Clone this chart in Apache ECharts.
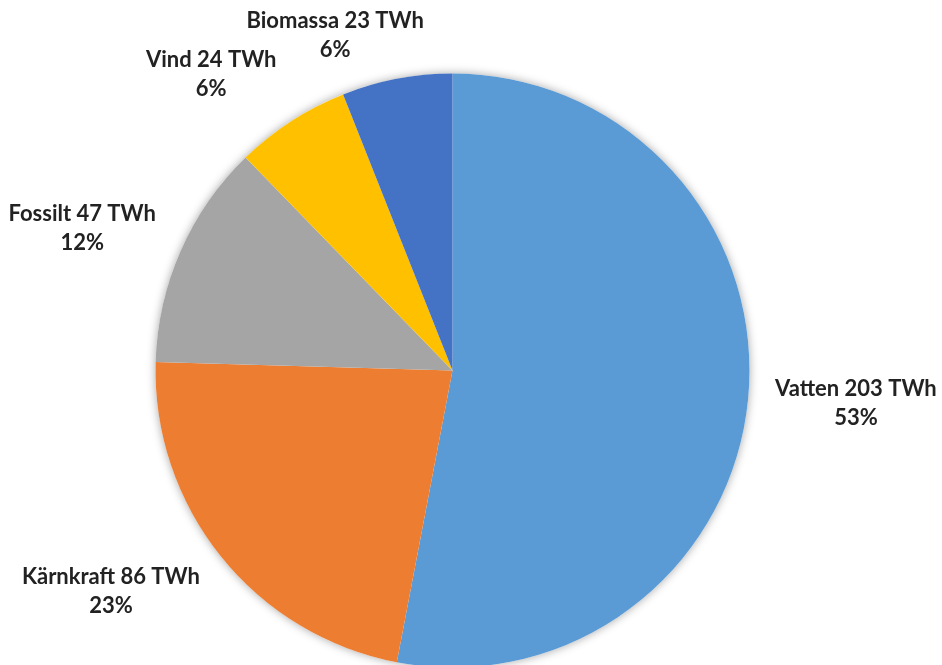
<!DOCTYPE html>
<html><head><meta charset="utf-8">
<script src="https://cdn.jsdelivr.net/npm/echarts@6/dist/echarts.min.js"></script>
<style>html,body{margin:0;padding:0;background:#fff}#c{width:942px;height:665px}</style>
</head><body><div id="c"></div>
<script>
const categories = ['Vatten', 'Kärnkraft', 'Fossilt', 'Vind', 'Biomassa'];
const values = [203, 86, 47, 24, 23];
const colors = ['#5B9BD5', '#ED7D31', '#A5A5A5', '#FFC000', '#4472C4'];

const CX = 452.5, CY = 370.5, R = 297, GAP = 27, TOPMIN = 6;
const total = values.reduce((a, b) => a + b, 0);
const mids = []; let acc = 0;
values.forEach(v => { mids.push((acc + v / 2) / total * 2 * Math.PI); acc += v; });

const chart = echarts.init(document.getElementById('c'));
chart.setOption({
  animation: false,
  series: [
    {
      type: 'pie', silent: true, center: [CX, CY], radius: R, startAngle: 90,
      data: [{ value: 1, name: 'shadow' }],
      label: { show: false }, labelLine: { show: false },
      itemStyle: { color: '#ffffff', shadowBlur: 10, shadowColor: 'rgba(0,0,0,0.35)' },
      z: 1
    },
    {
      type: 'pie', center: [CX, CY], radius: R, startAngle: 90, clockwise: true,
      percentPrecision: 0, avoidLabelOverlap: false, z: 2,
      data: values.map((v, i) => ({ value: v, name: categories[i], itemStyle: { color: colors[i] } })),
      label: {
        show: true, position: 'outside', formatter: '{b} {c} TWh\n{d}%',
        fontFamily: 'Lato', fontWeight: 'bold', fontSize: 22, lineHeight: 29, color: '#222'
      },
      labelLine: { show: false },
      emphasis: { disabled: true },
      labelLayout: function (p) {
        const a = mids[p.dataIndex];
        const dx = Math.sin(a), dy = -Math.cos(a);
        const w = p.labelRect.width, h = p.labelRect.height;
        const fx = Math.min(1, Math.abs(dx) * 3.4);
        let x = CX + dx * (R + GAP) + Math.sign(dx) * w / 2 * fx;
        let y = CY + dy * (R + GAP) + dy * h / 2;
        if (y - h / 2 < TOPMIN) y = TOPMIN + h / 2;
        return { x: x, y: y, align: 'center', verticalAlign: 'middle' };
      }
    }
  ]
});
</script>
</body></html>
